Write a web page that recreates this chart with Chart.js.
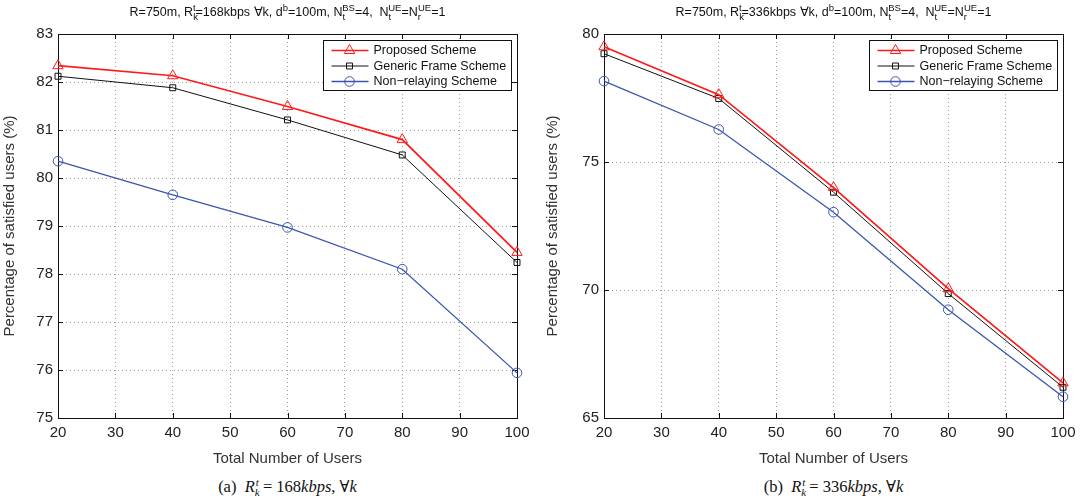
<!DOCTYPE html>
<html>
<head>
<meta charset="utf-8">
<script src="https://cdn.jsdelivr.net/npm/chart.js@4/dist/chart.umd.min.js"></script>
<style>
  html,body{margin:0;padding:0;background:#fff;}
  body{width:1087px;height:504px;position:relative;overflow:hidden;font-family:"Liberation Sans",Arial,sans-serif;}
  canvas{position:absolute;top:0;}
  .ttl{position:absolute;top:4px;font-size:12.5px;color:#111;text-align:center;white-space:nowrap;}
  .ttl sub,.ttl sup{font-size:9.5px;line-height:0;}
  .cap{position:absolute;top:477px;font-family:"Liberation Serif","DejaVu Serif",serif;font-size:16.5px;color:#111;text-align:center;white-space:nowrap;}
  .cap i sub,.cap i sup{font-size:11px;line-height:0;}
</style>
</head>
<body>
<canvas id="cA" width="540" height="475" style="left:0"></canvas>
<canvas id="cB" width="544" height="475" style="left:543px"></canvas>
<div class="ttl" style="left:58px;width:459px">R=750m, R<sub>k</sub><sup style="margin-left:-5px">t</sup>=168kbps &forall;k, d<sup>b</sup>=100m, N<sub>t</sub><sup style="margin-left:-3px">BS</sup>=4,&nbsp; N<sub>t</sub><sup style="margin-left:-3px">UE</sup>=N<sub>r</sub><sup style="margin-left:-3px">UE</sup>=1</div>
<div class="ttl" style="left:604px;width:459px">R=750m, R<sub>k</sub><sup style="margin-left:-5px">t</sup>=336kbps &forall;k, d<sup>b</sup>=100m, N<sub>t</sub><sup style="margin-left:-3px">BS</sup>=4,&nbsp; N<sub>t</sub><sup style="margin-left:-3px">UE</sup>=N<sub>r</sub><sup style="margin-left:-3px">UE</sup>=1</div>
<div class="cap" style="left:58px;width:459px">(a)&nbsp; <i>R<sub>k</sub><sup style="margin-left:-4px">t</sup></i> = 168<i>kbps</i>, &forall;<i>k</i></div>
<div class="cap" style="left:604px;width:459px">(b)&nbsp; <i>R<sub>k</sub><sup style="margin-left:-4px">t</sup></i> = 336<i>kbps</i>, &forall;<i>k</i></div>
<script>
const users = [20, 40, 60, 80, 100];
const seriesNames = ['Proposed Scheme', 'Generic Frame Scheme', 'Non\u2212relaying Scheme'];
const proposedA = [82.34, 82.13, 81.49, 80.80, 78.45];
const genericA  = [82.12, 81.88, 81.21, 80.48, 78.24];
const nonrelayA = [80.35, 79.65, 78.97, 78.10, 75.94];
const proposedB = [79.50, 77.63, 74.00, 70.05, 66.37];
const genericB  = [79.23, 77.48, 73.82, 69.86, 66.20];
const nonrelayB = [78.16, 76.27, 73.04, 69.23, 65.83];
const xTicks = [20, 30, 40, 50, 60, 70, 80, 90, 100];
const yTicksA = [75, 76, 77, 78, 79, 80, 81, 82, 83];
const yTicksB = [65, 70, 75, 80];
const xTitle = 'Total Number of Users';
const yTitle = 'Percentage of satisfied users (%)';

const FONT = '"Liberation Sans", Arial, sans-serif';
const styles = [
  {color:'#ff1a1a', pointStyle:'triangle', radius:6, width:1.7},
  {color:'#111111', pointStyle:'rect', radius:4.2, width:1},
  {color:'#3a55b0', pointStyle:'circle', radius:4.8, width:1.3}
];

function pts(arr){ return users.map((u,i)=>({x:u, y:arr[i]})); }

const framePlugin = {
  id:'frame',
  beforeDatasetsDraw(chart){
    const ctx = chart.ctx, a = chart.chartArea;
    const xs = chart.scales.x, ys = chart.scales.y;
    ctx.save();
    ctx.strokeStyle = '#111'; ctx.lineWidth = 1;
    ctx.strokeRect(Math.round(a.left)+0.5, Math.round(a.top)+0.5, Math.round(a.right-a.left), Math.round(a.bottom-a.top));
    ctx.beginPath();
    xs.ticks.forEach(t=>{ const p = Math.round(xs.getPixelForValue(t.value))+0.5;
      ctx.moveTo(p,a.bottom); ctx.lineTo(p,a.bottom-5); ctx.moveTo(p,a.top); ctx.lineTo(p,a.top+5); });
    ys.ticks.forEach(t=>{ const p = Math.round(ys.getPixelForValue(t.value))+0.5;
      ctx.moveTo(a.left,p); ctx.lineTo(a.left+5,p); ctx.moveTo(a.right,p); ctx.lineTo(a.right-5,p); });
    ctx.stroke();
    ctx.restore();
  },
  afterDraw(chart){
    const ctx = chart.ctx, a = chart.chartArea;
    ctx.save();
    ctx.font = '12.5px ' + FONT;
    let maxW = 0; seriesNames.forEach(n=>{ maxW = Math.max(maxW, ctx.measureText(n).width); });
    const w = Math.round(50 + maxW + 5), h = 50;
    const bx = Math.round(a.right - 6 - w) + 0.5, by = Math.round(a.top + 6) + 0.5;
    ctx.fillStyle = '#fff'; ctx.fillRect(bx, by, w, h);
    ctx.strokeStyle = '#111'; ctx.lineWidth = 1; ctx.strokeRect(bx, by, w, h);
    chart.data.datasets.forEach((ds,i)=>{
      const cy = by + 10 + i*15.5;
      ctx.strokeStyle = ds.borderColor; ctx.lineWidth = ds.borderWidth;
      ctx.beginPath(); ctx.moveTo(bx+8, cy); ctx.lineTo(bx+45, cy); ctx.stroke();
      ctx.fillStyle = 'rgba(0,0,0,0)'; ctx.strokeStyle = ds.borderColor; ctx.lineWidth = 1;
      Chart.helpers.drawPoint(ctx, {pointStyle: ds.pointStyle, radius: ds.pointRadius, borderWidth: 1, rotation:0}, bx+26, cy);
      ctx.fillStyle = '#111'; ctx.textBaseline = 'middle'; ctx.textAlign = 'left';
      ctx.fillText(seriesNames[i], bx+50, cy+0.5);
    });
    ctx.restore();
  }
};

function makeChart(id, data3, yTicks, yW, padRight){
  const datasets = data3.map((arr,i)=>({
    label: seriesNames[i], data: pts(arr),
    borderColor: styles[i].color, backgroundColor:'rgba(0,0,0,0)',
    borderWidth: styles[i].width, pointStyle: styles[i].pointStyle,
    pointRadius: styles[i].radius, pointBorderWidth: 1, pointBorderColor: styles[i].color,
    pointBackgroundColor:'rgba(0,0,0,0)', tension:0, clip:false
  }));
  return new Chart(document.getElementById(id), {
    type:'line',
    data:{datasets},
    plugins:[framePlugin],
    options:{
      responsive:false, animation:false, devicePixelRatio:1,
      layout:{padding:{top:34, right:padRight, left:0, bottom:0}},
      plugins:{legend:{display:false}, tooltip:{enabled:false}, title:{display:false}},
      scales:{
        x:{type:'linear', min:20, max:100,
          afterFit:(s)=>{ s.height = 57; },
          afterBuildTicks:(s)=>{ s.ticks = xTicks.map(v=>({value:v})); },
          ticks:{font:{family:FONT,size:15}, color:'#222', padding:6, maxRotation:0},
          grid:{color:'#a0a0a0', drawTicks:false, lineWidth:1},
          border:{display:false, dash:[1,3]},
          title:{display:true, text:xTitle, font:{family:FONT,size:15}, color:'#333', padding:{top:0,bottom:7}}
        },
        y:{type:'linear', min:yTicks[0], max:yTicks[yTicks.length-1],
          afterFit:(s)=>{ s.width = yW; },
          afterBuildTicks:(s)=>{ s.ticks = yTicks.map(v=>({value:v})); },
          ticks:{font:{family:FONT,size:15}, color:'#222', padding:5},
          grid:{color:'#a0a0a0', drawTicks:false, lineWidth:1},
          border:{display:false, dash:[1,3]},
          title:{display:true, text:yTitle, font:{family:FONT,size:15}, color:'#333', padding:{top:1,bottom:0}}
        }
      }
    }
  });
}

makeChart('cA', [proposedA, genericA, nonrelayA], yTicksA, 58, 23);
makeChart('cB', [proposedB, genericB, nonrelayB], yTicksB, 61, 24);
</script>
</body>
</html>
